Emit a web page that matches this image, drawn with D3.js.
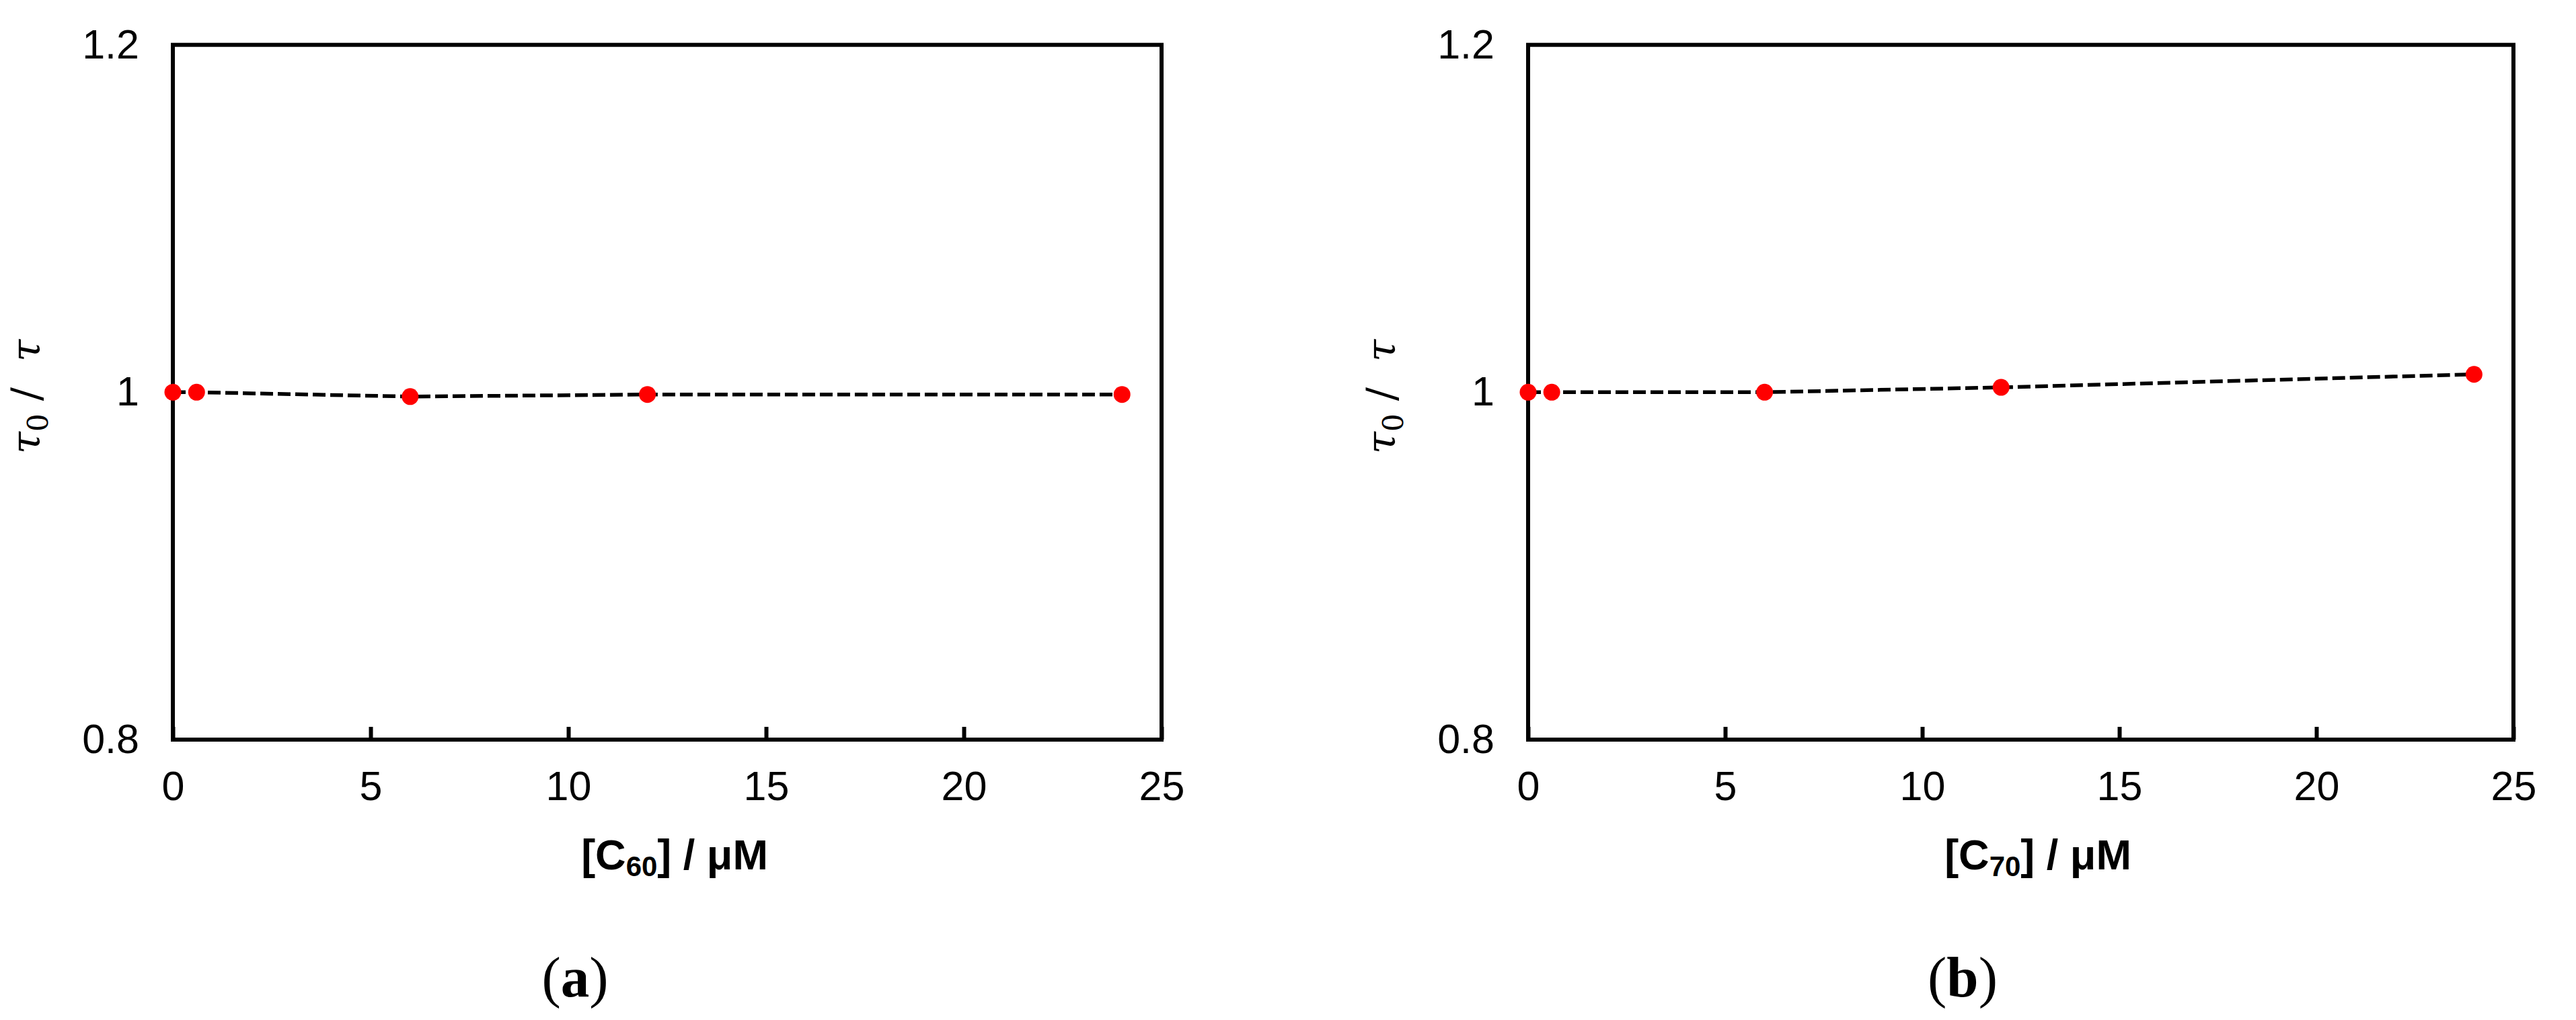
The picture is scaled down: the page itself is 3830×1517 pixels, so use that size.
<!DOCTYPE html>
<html>
<head>
<meta charset="utf-8">
<script src="https://cdn.jsdelivr.net/npm/d3@7"></script>
<style>
  html, body { margin: 0; padding: 0; background: #fff; }
  svg { display: block; }
</style>
</head>
<body>
<script>
// ---- data ----
const concA = [0, 0.6, 6, 12, 24];          // [C60] / μM
const ratioA = [1.000, 1.000, 0.9975, 0.9987, 0.9987];
const concB = [0, 0.6, 6, 12, 24];          // [C70] / μM
const ratioB = [1.000, 1.000, 1.000, 1.0028, 1.0103];
const xTicks = [0, 5, 10, 15, 20, 25];
const yTicks = [0.8, 1, 1.2];
const xTitlesSub = ["60", "70"];
const panelLabels = ["a", "b"];

const W = 3830, H = 1517;
const svg = d3.select("body").append("svg").attr("width", W).attr("height", H);
svg.append("rect").attr("width", W).attr("height", H).attr("fill", "#fff");

const panels = [
  { x0: 257, x1: 1727, conc: concA, ratio: ratioA, sub: xTitlesSub[0], lab: panelLabels[0], titleX: 1003, labX: 855 },
  { x0: 2272, x1: 3737, conc: concB, ratio: ratioB, sub: xTitlesSub[1], lab: panelLabels[1], titleX: 3030, labX: 2918 }
];
const yTop = 66.7, yBot = 1100;
const tickFont = "'Liberation Sans', Arial, sans-serif";

panels.forEach(p => {
  const x = d3.scaleLinear().domain([0, 25]).range([p.x0, p.x1]);
  const y = d3.scaleLinear().domain([0.8, 1.2]).range([yBot, yTop]);
  const g = svg.append("g");

  // x axis ticks + labels
  const xa = g.append("g").attr("transform", `translate(0,${yBot})`)
    .call(d3.axisBottom(x).tickValues(xTicks).tickSizeInner(-19).tickSizeOuter(0).tickPadding(47).tickFormat(d3.format("d")));
  xa.select(".domain").remove();
  xa.selectAll(".tick line").attr("stroke", "#000").attr("stroke-width", 6);
  xa.selectAll(".tick text").attr("font-family", tickFont).attr("font-size", 61).attr("fill", "#000");

  // y axis labels
  const ya = g.append("g").attr("transform", `translate(${p.x0},0)`)
    .call(d3.axisLeft(y).tickValues(yTicks).tickSize(0).tickPadding(50)
      .tickFormat(d => d === 1 ? "1" : d3.format(".1f")(d)));
  ya.select(".domain").remove();
  ya.selectAll(".tick text").attr("font-family", tickFont).attr("font-size", 61).attr("fill", "#000");

  // frame
  g.append("rect").attr("x", p.x0).attr("y", yTop)
    .attr("width", p.x1 - p.x0).attr("height", yBot - yTop)
    .attr("fill", "none").attr("stroke", "#000").attr("stroke-width", 6);

  // dashed line
  const pts = p.conc.map((c, i) => [c, p.ratio[i]]);
  g.append("path").datum(pts)
    .attr("d", d3.line().x(d => x(d[0])).y(d => y(d[1])))
    .attr("fill", "none").attr("stroke", "#000").attr("stroke-width", 5.5)
    .attr("stroke-dasharray", "19,7");

  // points
  g.selectAll("circle.pt").data(pts).enter().append("circle")
    .attr("class", "pt")
    .attr("cx", d => x(d[0])).attr("cy", d => y(d[1])).attr("r", 12.5)
    .attr("fill", "#ff0000");

  // y title  τ0 / τ
  const yt = g.append("text")
    .attr("transform", `translate(${p.x0 - 198},590) rotate(-90)`)
    .attr("text-anchor", "middle")
    .attr("font-family", "'DejaVu Serif', 'Liberation Serif', serif")
    .attr("font-size", 60).attr("fill", "#000")
    .attr("xml:space", "preserve");
  yt.append("tspan").attr("font-style", "italic").text("τ");
  yt.append("tspan").attr("font-size", 42).attr("dy", 12).text("0");
  yt.append("tspan").attr("dy", -12).text("\u00a0/\u00a0\u00a0");
  yt.append("tspan").attr("font-style", "italic").text("τ");

  // x title  [C60] / μM
  const xt = g.append("text")
    .attr("x", p.titleX).attr("y", 1293)
    .attr("text-anchor", "middle")
    .attr("font-family", tickFont).attr("font-weight", "bold")
    .attr("font-size", 63).attr("fill", "#000");
  xt.append("tspan").text("[C");
  xt.append("tspan").attr("font-size", 42).attr("dy", 10).text(p.sub);
  xt.append("tspan").attr("dy", -10).text("] / μM");

  // panel label (a)/(b)
  const pl = g.append("text")
    .attr("x", p.labX).attr("y", 1482)
    .attr("text-anchor", "middle")
    .attr("font-family", "'Liberation Serif', 'Times New Roman', serif")
    .attr("font-size", 85).attr("fill", "#000");
  pl.append("tspan").text("(");
  pl.append("tspan").attr("font-weight", "bold").text(p.lab);
  pl.append("tspan").text(")");
});
</script>
</body>
</html>
